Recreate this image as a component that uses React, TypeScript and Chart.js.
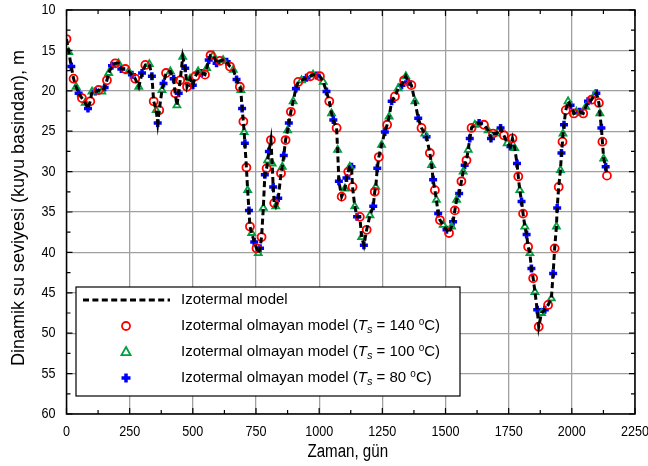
import React, { useEffect, useRef } from "react";
import { Chart, registerables } from "chart.js";

Chart.register(...registerables);

// Time (days) and modelled dynamic water level (m below wellhead)
const days = [
  0, 9, 19, 28, 38, 48, 61, 74, 85, 94, 101, 114, 127, 140, 151, 160, 167, 180, 193, 206,
  217, 233, 246, 259, 272, 286, 299, 312, 328, 338, 345, 355, 361, 367, 378, 384, 394, 411, 424, 430,
  437, 444, 450, 460, 470, 477, 489, 500, 510, 521, 534, 548, 555, 563, 570, 581, 594, 607, 620, 634,
  647, 660, 673, 686, 690, 695, 700, 703, 706, 712, 717, 722, 726, 733, 743, 752, 759, 766, 772, 779,
  785, 792, 796, 801, 809, 814, 818, 822, 828, 838, 849, 854, 860, 867, 875, 880, 888, 897, 908, 917,
  930, 950, 965, 976, 990, 1003, 1016, 1029, 1040, 1049, 1056, 1069, 1073, 1078, 1089, 1102, 1108, 1115, 1121, 1128,
  1132, 1141, 1150, 1161, 1168, 1177, 1188, 1201, 1214, 1220, 1224, 1230, 1236, 1247, 1260, 1269, 1277, 1287, 1300, 1313,
  1326, 1336, 1343, 1352, 1365, 1379, 1392, 1405, 1418, 1425, 1438, 1445, 1451, 1458, 1464, 1471, 1478, 1491, 1504, 1514,
  1524, 1530, 1537, 1544, 1554, 1563, 1570, 1576, 1583, 1590, 1596, 1603, 1616, 1633, 1652, 1669, 1680, 1688, 1702, 1718,
  1731, 1744, 1757, 1765, 1774, 1783, 1788, 1794, 1801, 1807, 1814, 1821, 1827, 1834, 1840, 1847, 1854, 1863, 1869, 1880,
  1893, 1906, 1919, 1926, 1932, 1939, 1942, 1948, 1955, 1959, 1963, 1965, 1969, 1976, 1985, 1995, 2008, 2018, 2031, 2045,
  2055, 2064, 2078, 2091, 2097, 2107, 2111, 2117, 2121, 2126, 2134, 2139,
];

const izotermalLevels = [
  13.6, 15.2, 17.0, 18.5, 19.5, 20.3, 20.9, 21.5, 22.2, 21.3, 20.1, 20.1, 19.9, 20.1, 19.6, 18.7, 17.8, 16.9, 16.6, 16.6,
  17.3, 17.3, 17.6, 18.0, 18.5, 19.5, 17.8, 16.8, 16.7, 18.2, 21.3, 22.4, 24.0, 22.4, 19.9, 19.1, 17.8, 17.6, 18.5, 20.3,
  21.8, 20.3, 18.7, 15.8, 17.2, 19.5, 18.5, 19.3, 18.2, 17.6, 17.8, 18.0, 17.2, 16.2, 15.6, 15.6, 16.6, 16.3, 16.2, 16.4,
  17.0, 17.4, 18.6, 19.5, 19.9, 22.2, 23.8, 25.1, 26.5, 29.5, 32.3, 34.8, 36.8, 37.6, 38.7, 39.5, 40.1, 39.5, 38.1, 34.5,
  30.4, 29.6, 28.6, 27.5, 26.1, 29.0, 31.9, 33.9, 34.3, 33.3, 30.2, 29.4, 28.0, 26.1, 24.9, 24.0, 22.6, 21.3, 19.7, 18.9,
  18.7, 18.4, 18.2, 18.0, 18.1, 18.2, 18.9, 20.1, 21.3, 22.8, 23.6, 24.6, 27.3, 31.2, 33.1, 32.1, 30.8, 30.0, 29.4, 29.4,
  31.9, 34.3, 35.6, 35.6, 38.1, 39.1, 37.2, 35.4, 34.3, 32.5, 31.9, 29.6, 28.2, 26.7, 25.1, 24.2, 23.2, 21.3, 20.7, 19.7,
  19.3, 18.7, 18.2, 18.9, 19.3, 21.3, 23.4, 24.6, 25.3, 25.7, 27.7, 29.2, 31.0, 32.3, 33.5, 35.2, 36.0, 36.6, 37.2, 37.6,
  36.8, 36.2, 34.8, 33.5, 32.7, 31.2, 30.0, 29.2, 28.6, 27.3, 25.9, 24.6, 24.2, 24.0, 24.2, 24.9, 25.9, 25.3, 25.3, 24.6,
  25.5, 26.5, 26.9, 25.9, 27.1, 29.0, 30.6, 32.3, 33.7, 35.2, 36.8, 37.8, 39.3, 40.1, 42.0, 43.2, 44.9, 47.1, 49.2, 47.5,
  47.1, 46.5, 45.7, 42.6, 39.5, 36.8, 34.5, 31.9, 29.8, 27.7, 26.3, 25.3, 24.2, 22.4, 21.3, 21.8, 22.8, 22.6, 22.6, 22.8,
  22.0, 21.3, 21.1, 20.5, 20.3, 21.5, 22.8, 24.6, 26.3, 28.4, 29.4, 30.5,
];

const xTicks = [0, 250, 500, 750, 1000, 1250, 1500, 1750, 2000, 2250];
const yTicks = [10, 15, 20, 25, 30, 35, 40, 45, 50, 55, 60];
const xMinorTicks = [125, 375, 625, 875, 1125, 1375, 1625, 1875, 2125];
const yMinorTicks = [12.5, 17.5, 22.5, 27.5, 32.5, 37.5, 42.5, 47.5, 52.5, 57.5];

const lineLabel = "Izotermal model";
const markerLabelPrefix = "Izotermal olmayan model (";
const markerTemps = ["140", "100", "80"];
const xTitle = "Zaman, gün";
const yTitle = "Dinamik su seviyesi (kuyu basindan), m";

const RED = "#ff0000";
const GREEN = "#00a040";
const BLUE = "#0000ff";
const NARROW = 0.84;

function drawMarker(ctx: CanvasRenderingContext2D, kind: string, x: number, y: number) {
  ctx.save();
  if (kind === "circle") {
    ctx.strokeStyle = RED;
    ctx.lineWidth = 1.8;
    ctx.beginPath();
    ctx.arc(x, y, 4, 0, Math.PI * 2);
    ctx.stroke();
  } else if (kind === "triangle") {
    ctx.strokeStyle = GREEN;
    ctx.lineWidth = 1.8;
    ctx.beginPath();
    ctx.moveTo(x, y - 5);
    ctx.lineTo(x + 4.6, y + 3.2);
    ctx.lineTo(x - 4.6, y + 3.2);
    ctx.closePath();
    ctx.stroke();
  } else {
    ctx.strokeStyle = BLUE;
    ctx.lineWidth = 3.5;
    ctx.beginPath();
    ctx.moveTo(x - 4.5, y);
    ctx.lineTo(x + 4.5, y);
    ctx.moveTo(x, y - 4.5);
    ctx.lineTo(x, y + 4.5);
    ctx.stroke();
  }
  ctx.restore();
}

function narrowText(ctx: CanvasRenderingContext2D, text: string, x: number, y: number, align: CanvasTextAlign) {
  ctx.save();
  ctx.translate(x, y);
  ctx.scale(NARROW, 1);
  ctx.textAlign = align;
  ctx.textBaseline = "middle";
  ctx.fillText(text, 0, 0);
  ctx.restore();
}

const framePlugin = {
  id: "frameAndLegend",
  afterDraw(chart: any) {
    const { ctx, chartArea, scales } = chart;
    const { left, right, top, bottom } = chartArea;
    ctx.save();
    ctx.strokeStyle = "#000";
    ctx.lineWidth = 1.5;
    ctx.strokeRect(left, top, right - left, bottom - top);
    ctx.lineWidth = 1.2;
    ctx.beginPath();
    xTicks.forEach((v) => {
      const px = scales.x.getPixelForValue(v);
      ctx.moveTo(px, bottom); ctx.lineTo(px, bottom - 6);
      ctx.moveTo(px, top); ctx.lineTo(px, top + 6);
    });
    xMinorTicks.forEach((v) => {
      const px = scales.x.getPixelForValue(v);
      ctx.moveTo(px, bottom); ctx.lineTo(px, bottom - 4);
      ctx.moveTo(px, top); ctx.lineTo(px, top + 4);
    });
    yTicks.forEach((v) => {
      const py = scales.y.getPixelForValue(v);
      ctx.moveTo(left, py); ctx.lineTo(left + 6, py);
      ctx.moveTo(right, py); ctx.lineTo(right - 6, py);
    });
    yMinorTicks.forEach((v) => {
      const py = scales.y.getPixelForValue(v);
      ctx.moveTo(left, py); ctx.lineTo(left + 4, py);
      ctx.moveTo(right, py); ctx.lineTo(right - 4, py);
    });
    ctx.stroke();

    // tick labels (condensed sans)
    ctx.fillStyle = "#000";
    ctx.font = "15px 'Liberation Sans', Arial, sans-serif";
    xTicks.forEach((v) => {
      narrowText(ctx, String(v), scales.x.getPixelForValue(v), bottom + 18, "center");
    });
    yTicks.forEach((v) => {
      narrowText(ctx, String(v), left - 11, scales.y.getPixelForValue(v), "right");
    });
    // x title
    ctx.font = "18px 'Liberation Sans', Arial, sans-serif";
    narrowText(ctx, xTitle, (left + right) / 2 - 3, bottom + 38, "center");
    // y title
    ctx.save();
    ctx.translate(19, (top + bottom) / 2 - 4);
    ctx.rotate(-Math.PI / 2);
    ctx.font = "18px 'Liberation Sans', Arial, sans-serif";
    ctx.textAlign = "center";
    ctx.textBaseline = "middle";
    ctx.fillText(yTitle, 0, 0);
    ctx.restore();

    // legend box
    const bx = 76, by = 287, bw = 384, bh = 109;
    ctx.fillStyle = "#fff";
    ctx.fillRect(bx, by, bw, bh);
    ctx.strokeStyle = "#000";
    ctx.lineWidth = 1.2;
    ctx.strokeRect(bx, by, bw, bh);

    const rows = [300, 326, 352, 378];
    const textX = 181;
    const font = "15px 'Liberation Sans', Arial, sans-serif";
    const italic = "italic 15px 'Liberation Sans', Arial, sans-serif";
    const small = "italic 11px 'Liberation Sans', Arial, sans-serif";
    const sup = "10px 'Liberation Sans', Arial, sans-serif";
    ctx.fillStyle = "#000";
    ctx.textBaseline = "middle";
    ctx.textAlign = "left";

    ctx.save();
    ctx.strokeStyle = "#000";
    ctx.lineWidth = 3;
    ctx.setLineDash([6, 3.4]);
    ctx.beginPath();
    ctx.moveTo(83, rows[0]);
    ctx.lineTo(170, rows[0]);
    ctx.stroke();
    ctx.restore();
    ctx.font = font;
    ctx.fillText(lineLabel, textX, rows[0]);

    const kinds = ["circle", "triangle", "cross"];
    markerTemps.forEach((t, i) => {
      const y = rows[i + 1];
      drawMarker(ctx, kinds[i], 126, y);
      let x = textX;
      ctx.font = font;
      ctx.fillText(markerLabelPrefix, x, y);
      x += ctx.measureText(markerLabelPrefix).width;
      ctx.font = italic;
      ctx.fillText("T", x, y);
      x += ctx.measureText("T").width;
      ctx.font = small;
      ctx.fillText("s", x, y + 4);
      x += ctx.measureText("s").width;
      ctx.font = font;
      const mid = " = " + t + " ";
      ctx.fillText(mid, x, y);
      x += ctx.measureText(mid).width;
      ctx.font = sup;
      ctx.fillText("o", x, y - 4);
      x += ctx.measureText("o").width;
      ctx.font = font;
      ctx.fillText("C)", x, y);
    });
    ctx.restore();
  },
};

export default function App() {
  const ref = useRef<HTMLCanvasElement>(null);
  useEffect(() => {
    if (!ref.current) return;
    const pts = days.map((d, i) => ({ x: d, y: izotermalLevels[i] }));
    const pick = (k: number) => pts.filter((_, i) => i % 3 === k);
    const chart = new Chart(ref.current, {
      type: "line",
      data: {
        datasets: [
          {
            label: lineLabel,
            data: pts,
            borderColor: "#000",
            borderWidth: 3,
            borderDash: [6, 3.4],
            pointRadius: 0,
            fill: false,
            tension: 0,
          },
          {
            label: "140",
            data: pick(0),
            showLine: false,
            pointStyle: "circle",
            pointRadius: 4,
            pointBorderColor: RED,
            pointBackgroundColor: "rgba(0,0,0,0)",
            pointBorderWidth: 1.8,
          },
          {
            label: "100",
            data: pick(1),
            showLine: false,
            pointStyle: "triangle",
            pointRadius: 4,
            pointBorderColor: GREEN,
            pointBackgroundColor: "rgba(0,0,0,0)",
            pointBorderWidth: 1.8,
          },
          {
            label: "80",
            data: pick(2),
            showLine: false,
            pointStyle: "cross",
            pointRadius: 4,
            pointBorderColor: BLUE,
            pointBackgroundColor: BLUE,
            pointBorderWidth: 3.5,
          },
        ] as any,
      },
      options: {
        animation: false,
        responsive: false,
        layout: { padding: { top: 10, right: 13, left: 0, bottom: 0 } },
        plugins: { legend: { display: false }, tooltip: { enabled: false } },
        scales: {
          x: {
            type: "linear",
            min: 0,
            max: 2250,
            afterBuildTicks: (s: any) => {
              s.ticks = xTicks.map((v) => ({ value: v }));
            },
            grid: { color: "#a0a0a0", lineWidth: 1.3, drawTicks: false },
            border: { display: false },
            ticks: { display: false },
            title: { display: false },
            afterFit: (s: any) => {
              s.height = 52;
              s.paddingLeft = 0;
              s.paddingRight = 0;
            },
          },
          y: {
            type: "linear",
            reverse: true,
            min: 10,
            max: 60,
            afterBuildTicks: (s: any) => {
              s.ticks = yTicks.map((v) => ({ value: v }));
            },
            grid: { color: "#a0a0a0", lineWidth: 1.3, drawTicks: false },
            border: { display: false },
            ticks: { display: false },
            title: { display: false },
            afterFit: (s: any) => {
              s.width = 66.5;
              s.paddingTop = 0;
              s.paddingBottom = 0;
            },
          },
        },
      },
      plugins: [framePlugin],
    });
    return () => chart.destroy();
  }, []);
  return (
    <div style={{ position: "absolute", left: 0, top: 0, width: 648, height: 466, background: "#fff" }}>
      <canvas ref={ref} width={648} height={466} />
    </div>
  );
}
